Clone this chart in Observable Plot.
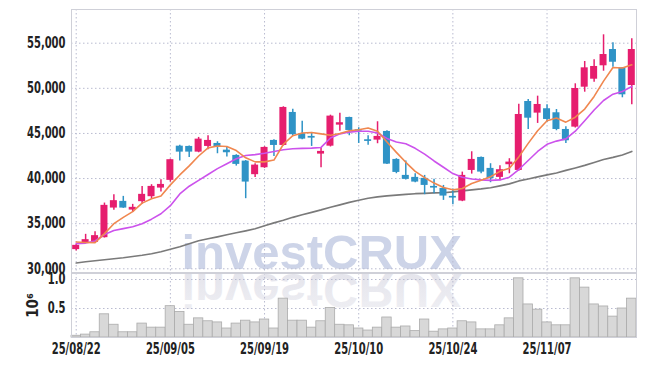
<!DOCTYPE html>
<html><head><meta charset="utf-8">
<script src="https://cdn.jsdelivr.net/npm/d3@7"></script>
<script src="https://cdn.jsdelivr.net/npm/@observablehq/plot@0.6"></script>
<style>
body{margin:0;background:#fff;}
#chart{position:relative;width:645px;height:366px;overflow:hidden;background:#fff;}
#chart svg{position:absolute;left:0;}
</style>
</head><body><div id="chart"></div>
<script>
const dates = ["2025-08-22","2025-08-25","2025-08-26","2025-08-27","2025-08-28","2025-08-29","2025-09-01","2025-09-02","2025-09-03","2025-09-04","2025-09-05","2025-09-08","2025-09-09","2025-09-10","2025-09-11","2025-09-12","2025-09-15","2025-09-16","2025-09-17","2025-09-18","2025-09-19","2025-09-22","2025-09-23","2025-09-24","2025-09-25","2025-09-26","2025-09-29","2025-09-30","2025-10-01","2025-10-02","2025-10-10","2025-10-13","2025-10-14","2025-10-15","2025-10-16","2025-10-17","2025-10-20","2025-10-21","2025-10-22","2025-10-23","2025-10-24","2025-10-27","2025-10-28","2025-10-29","2025-10-30","2025-10-31","2025-11-03","2025-11-04","2025-11-05","2025-11-06","2025-11-07","2025-11-10","2025-11-11","2025-11-12","2025-11-13","2025-11-14","2025-11-17","2025-11-18","2025-11-19","2025-11-20"];
const open  = [32125,32900,32935,33450,36730,37470,36510,37440,37990,38945,39800,43590,43560,42930,43560,43890,43150,42565,41935,40430,41200,44225,43670,47325,44965,44670,42710,43590,45920,46770,45410,44300,44260,45220,42120,40350,40130,40020,39130,38910,38025,37505,40900,42340,41125,40130,41535,40900,48540,47250,47735,47290,45440,45700,50125,51010,52495,54300,52270,50310];
const high  = [32700,33820,34118,37285,38210,38025,37140,39130,39320,39870,42150,43700,43600,44560,44745,44080,43450,42640,41990,41645,43530,44300,47955,47690,46360,45110,43415,47025,47250,46800,45630,44745,46295,45300,42200,41935,40535,40350,39910,39240,38835,40715,42970,42400,41645,41425,42200,48245,48765,49130,48180,47655,45740,50500,52970,53160,55930,55040,52300,55480];
const low   = [31970,32790,32860,33410,36476,36700,36255,37140,37770,38500,39610,41935,42340,42860,43195,42750,42380,41380,37770,40130,41125,42450,43600,44780,44300,43560,41200,43500,45255,44745,43890,43700,43860,41550,40535,39850,39540,38215,38325,37580,37110,37440,40495,40535,39540,39765,40535,40800,45440,46110,46250,45300,43890,45600,49570,50680,51895,52340,48950,48180];
const close = [32600,33230,33675,37030,37550,36730,36810,38250,39130,39350,42090,42930,42930,44370,44225,43480,42860,41570,39610,41490,43450,43670,47880,44860,44370,44480,43010,46920,46185,45330,45255,44115,44670,41600,40680,39910,39610,39240,38945,38060,37840,40350,42120,40715,39985,40980,41825,47100,46690,48210,46550,45440,44190,49980,52270,52420,53745,52890,49280,54300];
const ma5   = [32970,32920,32900,33900,35000,35700,36330,37280,37770,38060,39300,40400,41400,42500,43400,43600,43550,43100,42300,41850,41850,42050,43800,44750,45050,45100,44950,44800,45000,45300,45400,45600,45250,44050,42900,41800,40800,40100,39500,39000,38750,38900,39450,39800,40200,40800,41150,42400,43900,45300,46400,46700,46250,46800,47700,49100,50800,52300,52250,52600];
const ma10  = [32790,32850,33080,33800,34250,34450,34650,35000,35500,36100,37000,38300,39150,39800,40450,41100,41650,42200,42550,42650,42800,43000,43200,43300,43340,43370,43450,44500,44950,45150,45250,45250,45050,44450,44050,43850,43350,42700,41950,41250,40550,40150,39950,39850,39800,39850,40150,41000,42000,43000,43800,44150,44400,45250,46400,47600,48650,49350,49650,50200];
const maLong= [30640,30775,30885,31000,31110,31220,31360,31495,31660,31880,32160,32435,32770,33100,33320,33540,33765,33985,34205,34430,34760,35090,35370,35700,35980,36255,36530,36830,37085,37360,37605,37825,37970,38080,38160,38245,38325,38360,38410,38435,38525,38635,38745,38855,38990,39190,39410,39740,39960,40185,40405,40625,40905,41180,41460,41790,42120,42345,42620,43010];
const volume= [0.03,0.05,0.09,0.40,0.22,0.09,0.09,0.24,0.17,0.17,0.54,0.44,0.22,0.33,0.28,0.26,0.155,0.24,0.29,0.26,0.31,0.155,0.67,0.29,0.29,0.17,0.28,0.51,0.22,0.21,0.155,0.12,0.17,0.345,0.17,0.19,0.11,0.31,0.10,0.14,0.155,0.28,0.26,0.14,0.14,0.21,0.33,1.02,0.57,0.48,0.26,0.21,0.21,1.02,0.86,0.57,0.535,0.36,0.50,0.67];
const tickDates = ["2025-08-22","2025-09-05","2025-09-19","2025-10-10","2025-10-24","2025-11-07"];
const priceTicks = [30000,35000,40000,45000,50000,55000];
const volumeTicks = [0.5,1.0];
const watermark = "investCRUX";
const volumeLabel = "10\u2076";

const UP = "#e61e6e", DOWN = "#2f93c6";
const rows = dates.map((d,i)=>({date:d, open:open[i], high:high[i], low:low[i], close:close[i],
  ma5:ma5[i], ma10:ma10[i], maLong:maLong[i], volume:volume[i], up: close[i] >= open[i]}));
const FONT = "'DejaVu Sans Condensed','DejaVu Sans',sans-serif";
const fmtDate = d => d.slice(2).replace(/-/g,"/");
const GRID = {stroke:"#b9bbd0", strokeOpacity:1, strokeDasharray:"1.5,2.5", strokeWidth:1};
const baseStyle = {fontFamily: FONT, fontSize:"15px", fontWeight:"bold", color:"#222", background:"transparent", overflow:"visible"};

const price = Plot.plot({
  width:645, height:273, marginTop:9, marginBottom:1, marginLeft:71, marginRight:9,
  style: baseStyle,
  x:{type:"band", domain:dates, padding:0, round:false, axis:null},
  y:{domain:[29590,58734], ticks:priceTicks, tickFormat:d3.format(","), tickSize:0, tickPadding:6, label:null},
  marks:[
    Plot.gridY(priceTicks, GRID),
    Plot.gridX(tickDates, GRID),
    Plot.frame({stroke:"#cfd0d8"}),
    Plot.lineY(rows, {x:"date", y:"maLong", stroke:"#7a7a7a", strokeWidth:1.6}),
    Plot.ruleX(rows, {x:"date", y1:"low", y2:"high", stroke:d=>d.up?UP:DOWN, strokeWidth:1.5}),
    Plot.barY(rows, {x:"date", y1:"open", y2:"close", fill:d=>d.up?UP:DOWN, insetLeft:1.2, insetRight:1.2}),
    Plot.lineY(rows, {x:"date", y:"ma10", stroke:"#cc52ec", strokeWidth:1.6}),
    Plot.lineY(rows, {x:"date", y:"ma5", stroke:"#f0874f", strokeWidth:1.6})
  ]
});
price.style.top = "0px";

const vol = Plot.plot({
  width:645, height:93, marginTop:0, marginBottom:29, marginLeft:71, marginRight:9,
  style: baseStyle,
  x:{type:"band", domain:dates, padding:0, round:false, ticks:tickDates, tickFormat:fmtDate, tickSize:0, tickPadding:6, label:null},
  y:{domain:[0,64/58], ticks:volumeTicks, tickFormat:d=>d.toFixed(1), tickSize:0, tickPadding:6,
     label:volumeLabel, labelAnchor:"center", labelOffset:44, labelArrow:"none"},
  marks:[
    Plot.gridY(volumeTicks, GRID),
    Plot.gridX(tickDates, GRID),
    Plot.barY(rows, {x:"date", y:"volume", fill:"#d8d8d8", stroke:"#ababab", strokeWidth:0.8}),
    Plot.frame({stroke:"#cfd0d8"})
  ]
});
vol.style.top = "273px";

const chart = document.getElementById("chart");
chart.append(price, vol);

// condense axis text horizontally to match the narrow face of the original
for (const svg of [price, vol]) {
  svg.querySelectorAll("[aria-label$='tick label'] text").forEach(t => {
    const len = t.getComputedTextLength();
    if (len > 0) { t.setAttribute("textLength", (len * 0.74).toFixed(1)); t.setAttribute("lengthAdjust", "spacingAndGlyphs"); }
  });
}

// watermark (behind grid) and its reflection
const firstMark = price.querySelector("g");
const wm = document.createElementNS("http://www.w3.org/2000/svg","text");
price.insertBefore(wm, firstMark);
d3.select(wm).attr("x",321.7).attr("y",268.7).attr("text-anchor","middle")
  .attr("font-family","'Liberation Sans',Arial,sans-serif").attr("font-weight","bold")
  .attr("font-size",49).attr("fill","#cdd4e8").text(watermark);

const defs = d3.select(vol).insert("defs", "g");
const grad = defs.append("linearGradient").attr("id","wmfade").attr("x1",0).attr("y1",0).attr("x2",0).attr("y2",1);
grad.append("stop").attr("offset","0%").attr("stop-color","#e2e2ea").attr("stop-opacity",0.5);
grad.append("stop").attr("offset","100%").attr("stop-color","#e2e2ea").attr("stop-opacity",1);
const firstVolMark = vol.querySelector("g");
const wr = document.createElementNS("http://www.w3.org/2000/svg","text");
vol.insertBefore(wr, firstVolMark);
d3.select(wr).attr("x",321.7).attr("y",0).attr("text-anchor","middle")
  .attr("transform","translate(0,1.2) scale(1,-1)")
  .attr("font-family","'Liberation Sans',Arial,sans-serif").attr("font-weight","bold")
  .attr("font-size",49).attr("fill","url(#wmfade)").text(watermark);
</script>
</body></html>
